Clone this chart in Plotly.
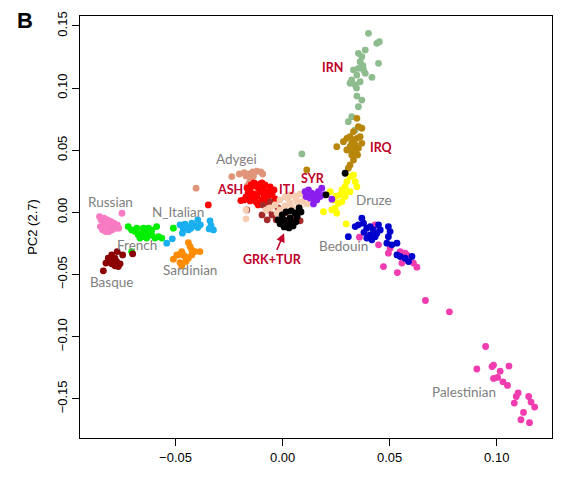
import plotly.graph_objects as go

# ---- data (PC1, PC2) per population ----
russian_x = [-0.0855, -0.0848, -0.0834, -0.0818, -0.0803, -0.0788, -0.0772, -0.0780, -0.0795, -0.0811, -0.0826, -0.0841, -0.0851, -0.0818, -0.0800, -0.0765, -0.0750, -0.0835, -0.0812]
russian_y = [-0.0034, -0.0060, -0.0047, -0.0060, -0.0073, -0.0087, -0.0100, -0.0127, -0.0140, -0.0154, -0.0154, -0.0140, -0.0114, -0.0100, -0.0114, -0.0127, -0.0007, -0.0090, -0.0130]

french_x = [-0.0721, -0.0705, -0.0689, -0.0674, -0.0658, -0.0643, -0.0627, -0.0611, -0.0588, -0.0580, -0.0564, -0.0596, -0.0619, -0.0650, -0.0666, -0.0635, -0.0611, -0.0510, -0.0705, -0.0681, -0.0650]
french_y = [-0.0114, -0.0141, -0.0154, -0.0181, -0.0167, -0.0154, -0.0127, -0.0141, -0.0114, -0.0195, -0.0207, -0.0207, -0.0181, -0.0195, -0.0207, -0.0207, -0.0181, -0.0127, -0.0315, -0.0127, -0.0127]

nitalian_x = [-0.0541, -0.0515, -0.0479, -0.0464, -0.0448, -0.0428, -0.0412, -0.0396, -0.0384, -0.0396, -0.0424, -0.0456, -0.0468, -0.0440, -0.0339, -0.0334, -0.0323, -0.0343]
nitalian_y = [-0.0248, -0.0213, -0.0100, -0.0127, -0.0114, -0.0127, -0.0106, -0.0122, -0.0100, -0.0060, -0.0087, -0.0095, -0.0167, -0.0141, -0.0068, -0.0106, -0.0141, -0.0133]

sardinian_x = [-0.0510, -0.0487, -0.0471, -0.0456, -0.0440, -0.0424, -0.0409, -0.0386, -0.0432, -0.0440, -0.0479, -0.0471, -0.0451, -0.0494, -0.0464, -0.0424]
sardinian_y = [-0.0376, -0.0342, -0.0315, -0.0355, -0.0368, -0.0342, -0.0315, -0.0315, -0.0275, -0.0243, -0.0404, -0.0430, -0.0396, -0.0342, -0.0342, -0.0301]

basque_x = [-0.0837, -0.0825, -0.0814, -0.0798, -0.0783, -0.0775, -0.0759, -0.0767, -0.0783, -0.0798, -0.0814, -0.0772, -0.0747, -0.0700, -0.0806, -0.0787]
basque_y = [-0.0470, -0.0408, -0.0368, -0.0342, -0.0368, -0.0396, -0.0414, -0.0436, -0.0430, -0.0414, -0.0396, -0.0315, -0.0342, -0.0334, -0.0376, -0.0392]

adygei_x = [-0.0237, -0.0202, -0.0179, -0.0155, -0.0139, -0.0121, -0.0102, -0.0093, -0.0136, -0.0149, -0.0155, -0.0164, -0.0404, -0.0171]
adygei_y = [0.0288, 0.0309, 0.0320, 0.0309, 0.0326, 0.0331, 0.0326, 0.0309, 0.0293, 0.0267, 0.0240, 0.0213, 0.0195, 0.0293]

ash_x = [-0.0152, -0.0129, -0.0105, -0.0082, -0.0058, -0.0040, -0.0049, -0.0068, -0.0096, -0.0124, -0.0152, -0.0171, -0.0161, -0.0133, -0.0105, -0.0077, -0.0114, -0.0143, -0.0086, -0.0058, -0.0114, -0.0091, -0.0166, -0.0096, -0.0133, -0.0035, -0.0180, -0.0195, -0.0347, -0.0068, -0.0119, -0.0091, -0.0147]
ash_y = [0.0181, 0.0213, 0.0229, 0.0221, 0.0205, 0.0181, 0.0141, 0.0117, 0.0100, 0.0084, 0.0092, 0.0125, 0.0157, 0.0149, 0.0165, 0.0165, 0.0197, 0.0117, 0.0133, 0.0157, 0.0060, 0.0068, 0.0197, 0.0237, 0.0237, 0.0109, 0.0100, 0.0095, 0.0060, 0.0084, 0.0133, 0.0189, 0.0221]

itj_x = [-0.0035, -0.0012, 0.0012, 0.0035, 0.0058, 0.0082, 0.0105, 0.0129, 0.0096, 0.0068, 0.0035, 0.0012, -0.0012, 0.0044, 0.0082, 0.0114, -0.0026, -0.0058, 0.0152, 0.0026, 0.0063, -0.0171, -0.0171, -0.0077]
itj_y = [0.0060, 0.0100, 0.0125, 0.0141, 0.0133, 0.0149, 0.0133, 0.0117, 0.0092, 0.0084, 0.0076, 0.0052, 0.0020, 0.0036, 0.0044, 0.0068, -0.0004, 0.0036, 0.0141, 0.0109, 0.0109, 0.0020, -0.0052, 0.0020]

brown_x = [-0.0091, -0.0068, -0.0049, -0.0030, -0.0007, 0.0016, 0.0035, 0.0058, 0.0072, 0.0012, -0.0021, -0.0058, 0.0082, -0.0072, -0.0096, -0.0167]
brown_y = [0.0060, 0.0020, -0.0020, -0.0060, -0.0076, -0.0092, -0.0076, -0.0044, -0.0004, -0.0004, 0.0036, 0.0084, -0.0068, -0.0060, -0.0020, 0.0020]

grktur_x = [-0.0002, 0.0016, 0.0040, 0.0058, 0.0068, 0.0063, 0.0049, 0.0030, 0.0007, -0.0012, -0.0021, 0.0007, 0.0035, 0.0044, 0.0021, 0.0077, 0.0086, 0.0203, 0.0292]
grktur_y = [-0.0020, 0.0004, 0.0012, -0.0004, -0.0036, -0.0076, -0.0109, -0.0125, -0.0117, -0.0092, -0.0060, -0.0060, -0.0044, -0.0076, -0.0092, 0.0036, 0.0004, 0.0141, 0.0315]

syr_x = [0.0105, 0.0121, 0.0136, 0.0144, 0.0160, 0.0175, 0.0183, 0.0167, 0.0144, 0.0129, 0.0110, 0.0230, 0.0194, 0.0152, 0.0125]
syr_y = [0.0167, 0.0181, 0.0154, 0.0114, 0.0100, 0.0127, 0.0195, 0.0167, 0.0068, 0.0114, 0.0127, 0.0106, 0.0141, 0.0141, 0.0150]

druze_x = [0.0191, 0.0222, 0.0237, 0.0245, 0.0261, 0.0269, 0.0277, 0.0292, 0.0300, 0.0315, 0.0331, 0.0339, 0.0347, 0.0315, 0.0292, 0.0277, 0.0253, 0.0230, 0.0297, 0.0285, 0.0250]
druze_y = [0.0006, 0.0167, 0.0100, 0.0034, 0.0074, 0.0141, 0.0181, 0.0207, 0.0248, 0.0288, 0.0301, 0.0248, 0.0207, 0.0167, 0.0127, 0.0087, -0.0006, 0.0020, -0.0092, 0.0160, 0.0130]

irn_x = [0.0401, 0.0452, 0.0440, 0.0354, 0.0386, 0.0370, 0.0362, 0.0448, 0.0331, 0.0354, 0.0386, 0.0417, 0.0323, 0.0339, 0.0362, 0.0315, 0.0347, 0.0347, 0.0370, 0.0354, 0.0323, 0.0307, 0.0339, 0.0090, 0.0378, 0.0375, 0.0345]
irn_y = [0.1441, 0.1373, 0.1360, 0.1280, 0.1306, 0.1252, 0.1212, 0.1199, 0.1146, 0.1159, 0.1119, 0.1087, 0.1065, 0.1025, 0.1051, 0.1039, 0.1105, 0.0936, 0.0904, 0.0850, 0.0770, 0.0730, 0.0663, 0.0470, 0.1146, 0.1180, 0.1000]

irq_x = [0.0253, 0.0284, 0.0300, 0.0315, 0.0331, 0.0347, 0.0362, 0.0370, 0.0354, 0.0339, 0.0323, 0.0331, 0.0315, 0.0307, 0.0354, 0.0370, 0.0347, 0.0315, 0.0300, 0.0323, 0.0113, 0.0350, 0.0331, 0.0340, 0.0325]
irq_y = [0.0529, 0.0569, 0.0596, 0.0609, 0.0583, 0.0596, 0.0609, 0.0556, 0.0516, 0.0489, 0.0462, 0.0422, 0.0382, 0.0355, 0.0690, 0.0677, 0.0757, 0.0529, 0.0502, 0.0556, 0.0342, 0.0462, 0.0650, 0.0540, 0.0500]

palestinian_x = [0.0432, 0.0359, 0.0448, 0.0502, 0.0494, 0.0549, 0.0572, 0.0557, 0.0471, 0.0536, 0.0611, 0.0627, 0.0580, 0.0667, 0.0779, 0.0948, 0.0907, 0.0978, 0.0985, 0.1057, 0.1016, 0.0985, 0.1004, 0.1029, 0.1050, 0.1100, 0.1091, 0.1082, 0.1149, 0.1160, 0.1177, 0.1125, 0.1113, 0.1153]
palestinian_y = [-0.0100, -0.0199, -0.0261, -0.0288, -0.0328, -0.0315, -0.0328, -0.0408, -0.0436, -0.0484, -0.0408, -0.0441, -0.0342, -0.0709, -0.0800, -0.1079, -0.1260, -0.1240, -0.1228, -0.1236, -0.1277, -0.1336, -0.1328, -0.1363, -0.1392, -0.1453, -0.1481, -0.1534, -0.1481, -0.1526, -0.1566, -0.1609, -0.1668, -0.1692]

bedouin_x = [0.0307, 0.0339, 0.0354, 0.0370, 0.0378, 0.0393, 0.0409, 0.0424, 0.0409, 0.0393, 0.0417, 0.0432, 0.0456, 0.0494, 0.0502, 0.0494, 0.0487, 0.0510, 0.0534, 0.0534, 0.0549, 0.0572, 0.0588, 0.0604, 0.0448, 0.0380, 0.0440]
bedouin_y = [-0.0195, -0.0114, -0.0100, -0.0047, -0.0087, -0.0127, -0.0114, -0.0141, -0.0181, -0.0207, -0.0221, -0.0195, -0.0141, -0.0114, -0.0154, -0.0195, -0.0248, -0.0261, -0.0248, -0.0342, -0.0355, -0.0368, -0.0396, -0.0355, -0.0100, -0.0160, -0.0170]

x_ticks = [-0.05, 0.00, 0.05, 0.10]
y_ticks = [-0.15, -0.10, -0.05, 0.00, 0.05, 0.10, 0.15]

# label name, x, y, bold (Jewish groups)
labels = [
    ("Russian", -0.0803, 0.0087, False),
    ("N_Italian", -0.0487, 0.0004, False),
    ("French", -0.0682, -0.0265, False),
    ("Sardinian", -0.0431, -0.0466, False),
    ("Basque", -0.0797, -0.0559, False),
    ("Adygei", -0.0214, 0.0432, False),
    ("Druze", 0.0425, 0.0096, False),
    ("Bedouin", 0.0286, -0.0269, False),
    ("Palestinian", 0.0848, -0.1447, False),
    ("ASH", -0.0247, 0.0181, True),
    ("ITJ", 0.0019, 0.0181, True),
    ("SYR", 0.0144, 0.0275, True),
    ("IRQ", 0.0464, 0.0523, True),
    ("IRN", 0.0231, 0.1166, True),
    ("GRK+TUR", -0.0047, -0.0382, True),
]

series = [
    (palestinian_x, palestinian_y, "#F03CAF"),
    (bedouin_x, bedouin_y, "#0000CD"),
    (russian_x, russian_y, "#F77BC2"),
    (french_x, french_y, "#00EE00"),
    (nitalian_x, nitalian_y, "#1AAFEF"),
    (sardinian_x, sardinian_y, "#FF8C00"),
    (basque_x, basque_y, "#8B0000"),
    (adygei_x, adygei_y, "#E0957A"),
    (irn_x, irn_y, "#8FBC8F"),
    (irq_x, irq_y, "#B8860B"),
    (druze_x, druze_y, "#FFFF00"),
    (ash_x, ash_y, "#FF0000"),
    (brown_x, brown_y, "#A52A2A"),
    (itj_x, itj_y, "#F6CDB0"),
    (syr_x, syr_y, "#8B1FF0"),
    (grktur_x, grktur_y, "#000000"),
]

fig = go.Figure()
for xs, ys, col in series:
    fig.add_trace(go.Scatter(x=xs, y=ys, mode="markers",
                             marker=dict(color=col, size=6.8, line=dict(width=0)),
                             showlegend=False, hoverinfo="skip"))

for name, lx, ly, bold in labels:
    fig.add_annotation(x=lx, y=ly, text=("<b>%s</b>" % name) if bold else name,
                       showarrow=False,
                       font=dict(family="Lato, Open Sans, sans-serif",
                                 size=12.5 if bold else 13.5,
                                 color="#C0002A" if bold else "#808080"))

# arrow pointing to GRK+TUR cluster
fig.add_annotation(x=0.0007, y=-0.0167, ax=-0.0030, ay=-0.0315,
                   xref="x", yref="y", axref="x", ayref="y", text="",
                   showarrow=True, arrowhead=2, arrowsize=1.1, arrowwidth=1.6,
                   arrowcolor="#C0002A")

fig.add_annotation(x=-0.1165, y=0.99, xref="paper", yref="paper", text="<b>B</b>",
                   showarrow=False, xanchor="center", yanchor="middle",
                   font=dict(family="Liberation Sans, Arial", size=22, color="black"))

axis_common = dict(showline=True, mirror=True, linecolor="black", linewidth=1.3,
                   ticks="outside", ticklen=7, tickwidth=1.2, tickcolor="black",
                   showgrid=False, zeroline=False, tickformat=".2f", automargin=False,
                   tickfont=dict(family="Liberation Sans, Arial", size=13, color="black"))

# the page body adds an 8px offset, so the figure is sized to fit the window
fig.update_layout(
    width=577, height=473,
    margin=dict(l=72, r=33, t=8, b=43),
    paper_bgcolor="white", plot_bgcolor="white",
    xaxis=dict(range=[-0.0946, 0.1258], tickvals=x_ticks, **axis_common),
    yaxis=dict(range=[-0.1815, 0.158], tickvals=y_ticks, tickangle=-90,
               title=dict(text="PC2 (2.7)", standoff=14,
                          font=dict(family="Liberation Sans, Arial", size=13, color="black")),
               **axis_common),
)

fig.write_html("out.html")
